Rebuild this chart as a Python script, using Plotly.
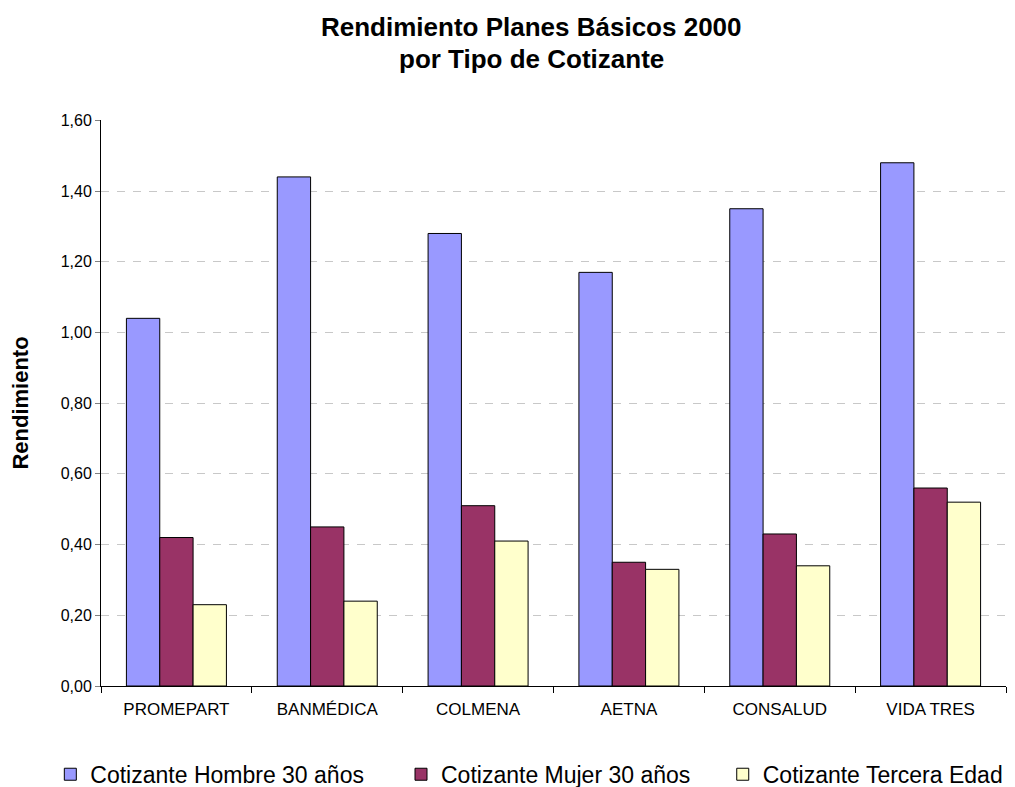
import plotly.graph_objects as go

categories = ["PROMEPART", "BANMÉDICA", "COLMENA", "AETNA", "CONSALUD", "VIDA TRES"]
hombre_30 = [1.04, 1.44, 1.28, 1.17, 1.35, 1.48]
mujer_30 = [0.42, 0.45, 0.51, 0.35, 0.43, 0.56]
tercera_edad = [0.23, 0.24, 0.41, 0.33, 0.34, 0.52]
series_names = ["Cotizante Hombre 30 años", "Cotizante Mujer 30 años", "Cotizante Tercera Edad"]
colors = ["#9999FF", "#993366", "#FFFFCC"]
y_ticks = [0.0, 0.2, 0.4, 0.6, 0.8, 1.0, 1.2, 1.4, 1.6]
title_lines = ["Rendimiento Planes Básicos 2000", "por Tipo de Cotizante"]

FONT = "Liberation Sans, Arial, sans-serif"

legend_ids = ["legend", "legend2", "legend3"]
legend_x = [-0.056, 0.3315, 0.687]

fig = go.Figure()
for name, vals, col, lg in zip(series_names, [hombre_30, mujer_30, tercera_edad], colors, legend_ids):
    fig.add_trace(go.Bar(
        x=categories, y=vals, name=name, legend=lg, showlegend=True,
        marker=dict(color=col, line=dict(color="black", width=1)),
    ))

# title as two annotation lines (Excel-like spacing)
for txt, ypos in zip(title_lines, [1.165, 1.108]):
    fig.add_annotation(
        text=f"<b>{txt}</b>", xref="paper", yref="paper",
        x=0.476, y=ypos, xanchor="center", yanchor="middle",
        showarrow=False, font=dict(size=26, family=FONT, color="black"),
    )

legend_common = dict(
    orientation="h", y=-0.118, yanchor="top", xanchor="left",
    font=dict(size=23, family=FONT, color="black"),
    itemwidth=30, bgcolor="rgba(0,0,0,0)", visible=True,
)

fig.update_layout(
    width=1015, height=787,
    showlegend=True,
    paper_bgcolor="white", plot_bgcolor="white",
    separators=",.",
    font=dict(family=FONT, color="black"),
    barmode="group", bargap=0.337, bargroupgap=0,
    margin=dict(l=93, r=17, t=112, b=109, autoexpand=False),
    legend=dict(x=legend_x[0], **legend_common),
    legend2=dict(x=legend_x[1], **legend_common),
    legend3=dict(x=legend_x[2], **legend_common),
    xaxis=dict(
        showline=True, linecolor="black", linewidth=1,
        ticks="outside", tickson="boundaries", ticklen=6, tickcolor="black",
        tickfont=dict(size=17, family=FONT, color="black"),
        ticklabelstandoff=8, automargin=False,
        showgrid=False,
    ),
    yaxis=dict(
        range=[0, 1.601], tickvals=y_ticks, tickformat=".2f",
        showline=True, linecolor="black", linewidth=1,
        ticks="outside", ticklen=5, tickcolor="#808080",
        tickfont=dict(size=16, family=FONT, color="black"),
        showgrid=True, gridcolor="#C8C8C8", gridwidth=1, griddash="8px,8px",
        zeroline=False, automargin=False,
        title=dict(text="<b>Rendimiento</b>", font=dict(size=22, family=FONT, color="black"), standoff=30),
    ),
)

fig.write_html("out.html")
